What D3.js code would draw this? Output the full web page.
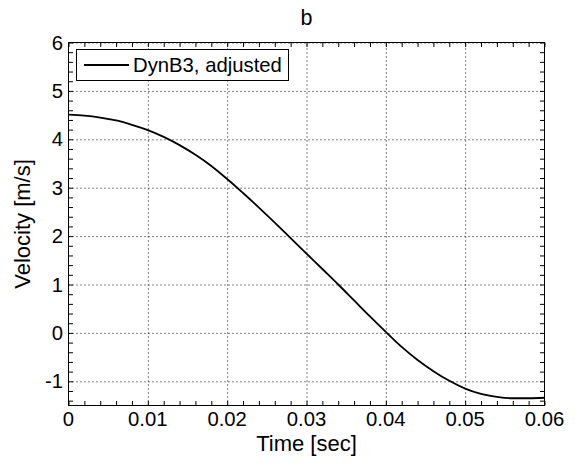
<!DOCTYPE html>
<html>
<head>
<meta charset="utf-8">
<script src="https://cdn.jsdelivr.net/npm/d3@7"></script>
<style>
  html, body { margin: 0; padding: 0; background: #fff; }
  svg { display: block; }
  text { font-family: "Liberation Sans", Arial, Helvetica, sans-serif; fill: #000; }
</style>
</head>
<body>
<svg id="chart" width="575" height="464"></svg>
<script>
// Velocity trace of the DynB3 model (adjusted)
const timeSec = [0, 0.002, 0.004, 0.006, 0.008, 0.010, 0.012, 0.014, 0.016, 0.018,
                 0.020, 0.022, 0.024, 0.026, 0.028, 0.030, 0.032, 0.034, 0.036, 0.038,
                 0.040, 0.042, 0.044, 0.046, 0.048, 0.050, 0.052, 0.054, 0.056, 0.058, 0.060];
const velocity = [4.51, 4.49, 4.45, 4.39, 4.30, 4.19, 4.05, 3.88, 3.68, 3.45,
                  3.18, 2.89, 2.59, 2.28, 1.96, 1.64, 1.32, 1.00, 0.67, 0.34,
                  0.02, -0.29, -0.56, -0.79, -0.99, -1.15, -1.26, -1.32, -1.35, -1.35, -1.34];

const xTicks = [0, 0.01, 0.02, 0.03, 0.04, 0.05, 0.06];
const xTickLabels = ["0", "0.01", "0.02", "0.03", "0.04", "0.05", "0.06"];
const yTicks = [-1, 0, 1, 2, 3, 4, 5, 6];
const yTickLabels = ["-1", "0", "1", "2", "3", "4", "5", "6"];
const xMinor = d3.range(0, 31).map(i => i * 0.002);
const yMinor = d3.range(-7, 31).map(i => i * 0.2);

const seriesName = "DynB3, adjusted";
const titleText = "b";
const xLabel = "Time [sec]";
const yLabel = "Velocity [m/s]";

const svg = d3.select("#chart");
const plotL = 68.5, plotR = 544.5, plotT = 42.5, plotB = 405.5;
const W = plotR - plotL, H = plotB - plotT;

const x = d3.scaleLinear().domain([0, 0.06]).range([plotL, plotR]);
const y = d3.scaleLinear().domain([-1.5, 6]).range([plotB, plotT]);

const tickFont = 20.3;
const labelFont = 22;

// dotted grid
const grid = svg.append("g").attr("class", "grid");
grid.append("g")
  .attr("transform", `translate(0,${plotB})`)
  .call(d3.axisBottom(x).tickValues(xTicks.slice(1, -1)).tickSize(-H).tickFormat(""))
  .call(g => g.select(".domain").remove());
grid.append("g")
  .attr("transform", `translate(${plotL},0)`)
  .call(d3.axisLeft(y).tickValues(yTicks).tickSize(-W).tickFormat(""))
  .call(g => g.select(".domain").remove());
grid.selectAll("line")
  .attr("stroke", "#000")
  .attr("stroke-width", 1)
  .attr("stroke-dasharray", "1,3");

// minor + major inward ticks on all four sides
function tickAxis(axis, vals, size, tr) {
  svg.append("g")
    .attr("transform", tr)
    .call(axis.tickValues(vals).tickSize(size).tickFormat(""))
    .call(g => g.select(".domain").remove())
    .selectAll("line").attr("stroke", "#000").attr("stroke-width", 1);
}
tickAxis(d3.axisBottom(x), xMinor, -4.5, `translate(0,${plotB})`);
tickAxis(d3.axisTop(x), xMinor, -4.5, `translate(0,${plotT})`);
tickAxis(d3.axisLeft(y), yMinor, -4.5, `translate(${plotL},0)`);
tickAxis(d3.axisRight(y), yMinor, -4.5, `translate(${plotR},0)`);

// tick labels
svg.append("g").selectAll("text")
  .data(xTicks)
  .join("text")
  .attr("x", d => x(d))
  .attr("y", 426)
  .attr("text-anchor", "middle")
  .attr("font-size", tickFont)
  .text((d, i) => xTickLabels[i]);

svg.append("g").selectAll("text")
  .data(yTicks)
  .join("text")
  .attr("x", plotL - 5.5)
  .attr("y", d => y(d))
  .attr("dy", "0.35em")
  .attr("text-anchor", "end")
  .attr("font-size", tickFont)
  .text((d, i) => yTickLabels[i]);

// frame
svg.append("rect")
  .attr("x", plotL).attr("y", plotT)
  .attr("width", W).attr("height", H)
  .attr("fill", "none")
  .attr("stroke", "#000")
  .attr("stroke-width", 1);

// velocity curve
const pts = timeSec.map((t, i) => [t, velocity[i]]);
const line = d3.line()
  .x(d => x(d[0]))
  .y(d => y(d[1]))
  .curve(d3.curveMonotoneX);
svg.append("path")
  .datum(pts)
  .attr("d", line)
  .attr("fill", "none")
  .attr("stroke", "#000")
  .attr("stroke-width", 1.8);

// legend
const lg = svg.append("g");
lg.append("rect")
  .attr("x", 76.5).attr("y", 49.5)
  .attr("width", 212).attr("height", 31)
  .attr("fill", "#fff")
  .attr("stroke", "#000")
  .attr("stroke-width", 1);
lg.append("line")
  .attr("x1", 84).attr("x2", 129)
  .attr("y1", 65).attr("y2", 65)
  .attr("stroke", "#000")
  .attr("stroke-width", 1.8);
lg.append("text")
  .attr("x", 133).attr("y", 72)
  .attr("font-size", tickFont)
  .text(seriesName);

// titles
svg.append("text")
  .attr("x", (plotL + plotR) / 2).attr("y", 25)
  .attr("text-anchor", "middle")
  .attr("font-size", 21.5)
  .text(titleText);

svg.append("text")
  .attr("x", (plotL + plotR) / 2).attr("y", 450.5)
  .attr("text-anchor", "middle")
  .attr("font-size", labelFont)
  .text(xLabel);

svg.append("text")
  .attr("transform", `translate(30,${(plotT + plotB) / 2}) rotate(-90)`)
  .attr("text-anchor", "middle")
  .attr("font-size", labelFont)
  .text(yLabel);
</script>
</body>
</html>
